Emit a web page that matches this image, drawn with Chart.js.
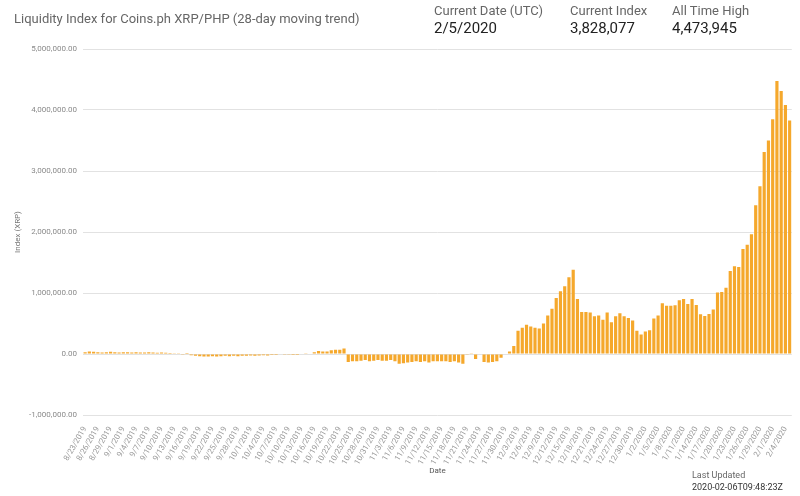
<!DOCTYPE html>
<html>
<head>
<meta charset="utf-8">
<script src="https://cdn.jsdelivr.net/npm/chart.js@4.4.0/dist/chart.umd.min.js"></script>
<style>
  html, body { margin: 0; padding: 0; background: #fff; }
  #wrap { position: relative; width: 800px; height: 496px; font-family: Roboto, sans-serif; }
  #chart { position: absolute; left: 0; top: 0; }
  .t { position: absolute; white-space: nowrap; }
  .title { left: 14px; top: 11px; font-size: 13px; color: #666; }
  .lbl { font-size: 13px; color: #666; top: 3px; }
  .big { font-size: 15px; color: #222; top: 19px; }
  .upd { font-size: 9px; color: #666; left: 692px; }
</style>
</head>
<body>
<div id="wrap">
  <canvas id="chart" width="800" height="496"></canvas>
  <div class="t title">Liquidity Index for Coins.ph XRP/PHP (28-day moving trend)</div>
  <div class="t lbl" style="left:434px">Current Date (UTC)</div>
  <div class="t big" style="left:434px">2/5/2020</div>
  <div class="t lbl" style="left:570px">Current Index</div>
  <div class="t big" style="left:570px">3,828,077</div>
  <div class="t lbl" style="left:672px">All Time High</div>
  <div class="t big" style="left:672px">4,473,945</div>
  <div class="t upd" style="top:470px">Last Updated</div>
  <div class="t upd" style="top:482px;color:#333">2020-02-06T09:48:23Z</div>
</div>
<script>
const dates = [
  '8/23/2019','8/24/2019','8/25/2019','8/26/2019','8/27/2019','8/28/2019','8/29/2019','8/30/2019','8/31/2019',
  '9/1/2019','9/2/2019','9/3/2019','9/4/2019','9/5/2019','9/6/2019','9/7/2019','9/8/2019','9/9/2019','9/10/2019',
  '9/11/2019','9/12/2019','9/13/2019','9/14/2019','9/15/2019','9/16/2019','9/17/2019','9/18/2019','9/19/2019','9/20/2019',
  '9/21/2019','9/22/2019','9/23/2019','9/24/2019','9/25/2019','9/26/2019','9/27/2019','9/28/2019','9/29/2019','9/30/2019',
  '10/1/2019','10/2/2019','10/3/2019','10/4/2019','10/5/2019','10/6/2019','10/7/2019','10/8/2019','10/9/2019','10/10/2019',
  '10/11/2019','10/12/2019','10/13/2019','10/14/2019','10/15/2019','10/16/2019','10/17/2019','10/18/2019','10/19/2019','10/20/2019',
  '10/21/2019','10/22/2019','10/23/2019','10/24/2019','10/25/2019','10/26/2019','10/27/2019','10/28/2019','10/29/2019','10/30/2019','10/31/2019',
  '11/1/2019','11/2/2019','11/3/2019','11/4/2019','11/5/2019','11/6/2019','11/7/2019','11/8/2019','11/9/2019','11/10/2019',
  '11/11/2019','11/12/2019','11/13/2019','11/14/2019','11/15/2019','11/16/2019','11/17/2019','11/18/2019','11/19/2019','11/20/2019',
  '11/21/2019','11/22/2019','11/23/2019','11/24/2019','11/25/2019','11/26/2019','11/27/2019','11/28/2019','11/29/2019','11/30/2019',
  '12/1/2019','12/2/2019','12/3/2019','12/4/2019','12/5/2019','12/6/2019','12/7/2019','12/8/2019','12/9/2019','12/10/2019',
  '12/11/2019','12/12/2019','12/13/2019','12/14/2019','12/15/2019','12/16/2019','12/17/2019','12/18/2019','12/19/2019','12/20/2019',
  '12/21/2019','12/22/2019','12/23/2019','12/24/2019','12/25/2019','12/26/2019','12/27/2019','12/28/2019','12/29/2019','12/30/2019','12/31/2019',
  '1/1/2020','1/2/2020','1/3/2020','1/4/2020','1/5/2020','1/6/2020','1/7/2020','1/8/2020','1/9/2020','1/10/2020',
  '1/11/2020','1/12/2020','1/13/2020','1/14/2020','1/15/2020','1/16/2020','1/17/2020','1/18/2020','1/19/2020','1/20/2020',
  '1/21/2020','1/22/2020','1/23/2020','1/24/2020','1/25/2020','1/26/2020','1/27/2020','1/28/2020','1/29/2020','1/30/2020','1/31/2020',
  '2/1/2020','2/2/2020','2/3/2020','2/4/2020','2/5/2020'
];

// index in XRP, one value per day
const indexValues = [
  30000, 40000, 35000, 30000, 25000, 30000, 35000, 30000, 25000, 30000,
  30000, 25000, 30000, 25000, 25000, 30000, 25000, 20000, 25000, 20000,
  15000, 5000, 3000, -3000, 2000,
  -20000, -30000, -35000, -40000, -40000, -35000, -40000, -35000, -30000, -35000,
  -30000, -35000, -30000, -30000, -25000, -30000, -25000, -20000, -25000, -15000, -15000,
  -8000, -5000, -3000, -2000, -2000, 0, 3000,
  10000, 30000, 50000, 40000, 40000, 60000, 70000, 70000, 90000,
  -130000, -120000, -120000, -110000, -100000, -120000, -110000, -100000, -110000, -110000,
  -100000, -120000, -160000, -150000, -140000, -130000, -120000, -130000, -120000, -140000,
  -120000, -120000, -120000, -120000, -130000, -120000, -140000, -160000,
  -5000, 5000, -80000, -10000, -130000, -140000, -130000, -120000, -60000, -10000, 40000, 130000,
  380000, 430000, 480000, 450000, 430000, 420000, 500000, 630000, 740000, 920000,
  1030000, 1110000, 1260000, 1380000, 900000, 690000, 690000, 680000, 620000, 630000,
  560000, 680000, 520000, 620000, 670000, 620000, 590000, 550000, 380000, 320000,
  370000, 390000, 580000, 630000, 830000, 790000, 790000, 800000, 880000, 900000,
  820000, 900000, 805000, 650000, 625000, 655000, 730000, 1010000, 1015000, 1085000,
  1360000, 1440000, 1425000, 1720000, 1790000, 1965000, 2440000, 2750000, 3310000, 3500000,
  3850000, 4473945, 4310000, 4080000, 3828077
];

const yTicks = [-1000000, 0, 1000000, 2000000, 3000000, 4000000, 5000000];

new Chart(document.getElementById('chart'), {
  type: 'bar',
  data: {
    labels: dates,
    datasets: [{
      label: 'Index (XRP)',
      data: indexValues,
      backgroundColor: '#f5a82c',
      barPercentage: 0.75,
      categoryPercentage: 1.0
    }]
  },
  options: {
    responsive: false,
    animation: false,
    layout: { padding: { top: 49, right: 8, bottom: 20, left: 0 } },
    plugins: { legend: { display: false }, tooltip: { enabled: false } },
    scales: {
      x: {
        grid: { display: false },
        border: { display: false },
        ticks: {
          autoSkip: false,
          maxRotation: 60,
          minRotation: 60,
          color: '#9a9a9a',
          font: { family: 'Roboto', size: 8 },
          padding: 2,
          callback: function (value, i) {
            return i % 3 === 0 ? dates[i] : '';
          }
        },
        title: {
          display: true,
          text: 'Date',
          color: '#555',
          font: { family: 'Roboto', size: 8 },
          padding: { top: 0, bottom: 0 }
        },
        afterFit: function (scale) { scale.height = 61; }
      },
      y: {
        min: -1000000,
        max: 5000000,
        afterBuildTicks: function (scale) {
          scale.ticks = yTicks.map(v => ({ value: v }));
        },
        grid: { color: '#e2e2e2', drawTicks: false },
        border: { display: false },
        ticks: {
          color: '#8a8a8a',
          font: { family: 'Roboto', size: 8 },
          padding: 6,
          callback: function (value) {
            return value.toLocaleString('en-US', { minimumFractionDigits: 2, maximumFractionDigits: 2 });
          }
        },
        title: {
          display: true,
          text: 'Index (XRP)',
          color: '#777',
          font: { family: 'Roboto', size: 8 },
          padding: { top: 13, bottom: 0 }
        },
        afterFit: function (scale) { scale.width = 83; }
      }
    }
  }
});
</script>
</body>
</html>
